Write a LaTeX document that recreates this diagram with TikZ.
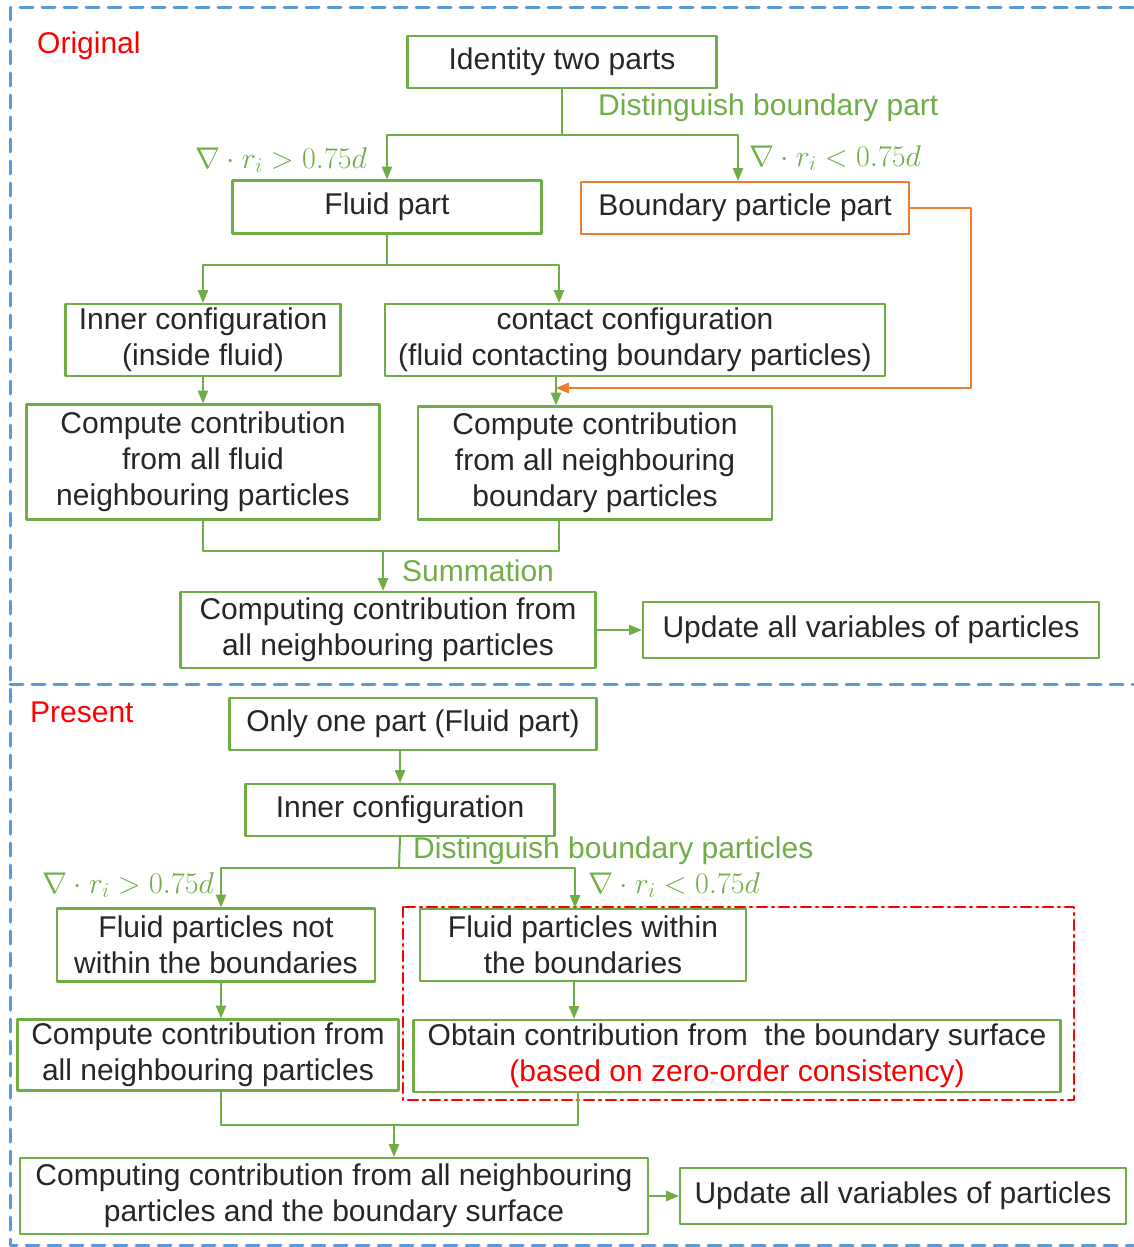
\RequirePackage{fix-cm}
\documentclass[tikz,border=0pt]{standalone}
\usepackage{fontspec}
\setmainfont{Liberation Sans}
\usepackage{tikz}
\usetikzlibrary{arrows}
\definecolor{grn}{RGB}{112,173,71}
\definecolor{orng}{RGB}{237,125,49}
\definecolor{blu}{RGB}{91,155,213}
\definecolor{rd}{RGB}{255,0,0}

\begin{document}
\begin{tikzpicture}[x=1pt,y=-1pt,line cap=round,line join=round,>=triangle 45,
    box/.style={draw=grn,line width=2.4pt,inner sep=0pt,align=center,text=black!85,font=\fontsize{30}{36}\selectfont},
    link/.style={draw=grn,line width=2pt},
    lbl/.style={text=grn,inner sep=0pt,font=\fontsize{30}{36}\selectfont},
    title/.style={text=rd,inner sep=0pt,anchor=west,font=\fontsize{30}{36}\selectfont}]
    \useasboundingbox (0,0) rectangle (1133,1247);
    % frames
    \draw [blu,line width=3pt,dash pattern=on 13pt off 9pt] (1133,8)-- (10,8)-- (10,1245)-- (1133,1245);
    \draw [blu,line width=3pt,dash pattern=on 13pt off 9pt] (10,684)-- (1133,684);
    \draw [rd,line width=2.6pt,dash pattern=on 10pt off 5pt on 2pt off 5pt] (403,907) rectangle (1074,1100);
    % Original
    \node [title] (orig) at (37,46) {Original};
    \node [box,minimum width=309,minimum height=52] (ident) at (562,62) {Identity two parts};
    \node [box,minimum width=309,minimum height=53] (fluid) at (387,207) {Fluid part};
    \node [box,draw=orng,minimum width=328,minimum height=52] (bnd) at (745,208) {Boundary particle part};
    \node [box,minimum width=275,minimum height=72] (inner1) at (203,340) {Inner configuration\\(inside fluid)};
    \node [box,minimum width=500,minimum height=72] (contact) at (635,340) {contact configuration\\(fluid contacting boundary particles)};
    \node [box,minimum width=353,minimum height=115] (comp1) at (203,462) {Compute contribution\\from all fluid\\neighbouring particles};
    \node [box,minimum width=354,minimum height=113] (comp2) at (595,463) {Compute contribution\\from all neighbouring\\boundary particles};
    \node [box,minimum width=415,minimum height=76] (sum1) at (388,630) {Computing contribution from\\all neighbouring particles};
    \node [box,minimum width=456,minimum height=56] (upd1) at (871,630) {Update all variables of particles};
    \node [lbl,anchor=west] (dbp) at (598,108) {Distinguish boundary part};
    \node [lbl,anchor=east] (gt1) at (367,160) {$\nabla\cdot r_i>0.75d$};
    \node [lbl,anchor=west] (lt1) at (749,158) {$\nabla\cdot r_i<0.75d$};
    \node [lbl,anchor=west] (summ) at (402,571) {Summation};
    \coordinate (j1) at (562,135);
    \coordinate (j2) at (387,265);
    \coordinate (j3) at (383,551);
    \coordinate (o1) at (971,388);
    \coordinate (o2) at (556,388);
    \draw [link] (ident.south)-- (j1);
    \draw [link,->] (j1) -| (fluid.north);
    \draw [link,->] (j1) -| ([xshift=-7pt]bnd.north);
    \draw [link] (fluid.south)-- (j2);
    \draw [link,->] (j2) -| (inner1.north);
    \draw [link,->] (j2) -| ([xshift=-76pt]contact.north);
    \draw [link,->] (inner1.south)-- (comp1.north);
    \draw [link,->] (contact.south -| o2)-- (comp2.north -| o2);
    \draw [orng,line width=2pt,->] (bnd.east) -| (o1)-- (o2);
    \draw [link] (comp1.south) |- (j3) -| ([xshift=-36pt]comp2.south);
    \draw [link,->] (j3)-- (j3 |- sum1.north);
    \draw [link,->] (sum1.east)-- (upd1.west);
    % Present
    \node [title] (pres) at (30,712) {Present};
    \node [box,minimum width=367,minimum height=52] (one) at (413,724) {Only one part (Fluid part)};
    \node [box,minimum width=309,minimum height=52] (inner2) at (400,810) {Inner configuration};
    \node [box,minimum width=318,minimum height=73] (notin) at (216,945) {Fluid particles not\\within the boundaries};
    \node [box,minimum width=326,minimum height=72] (within) at (583,945) {Fluid particles within\\the boundaries};
    \node [box,minimum width=381,minimum height=71] (comp3) at (208,1055) {Compute contribution from\\all neighbouring particles};
    \node [box,minimum width=647,minimum height=72] (obtain) at (737,1056) {Obtain contribution from\ \ the boundary surface\\\textcolor{rd}{(based on zero-order consistency)}};
    \node [box,minimum width=628,minimum height=76] (sum2) at (334,1196) {Computing contribution from all neighbouring\\particles and the boundary surface};
    \node [box,minimum width=446,minimum height=56] (upd2) at (903,1196) {Update all variables of particles};
    \node [lbl,anchor=west] (dbq) at (413,851) {Distinguish boundary particles};
    \node [lbl,anchor=east] (gt2) at (214,885) {$\nabla\cdot r_i>0.75d$};
    \node [lbl,anchor=west] (lt2) at (588,885) {$\nabla\cdot r_i<0.75d$};
    \coordinate (j4) at (399,868);
    \coordinate (j5) at (394,1125);
    \draw [link,->] (inner2.north |- one.south)-- (inner2.north);
    \draw [link] (inner2.south)-- (j4);
    \draw [link,->] (j4) -| ([xshift=5pt]notin.north);
    \draw [link,->] (j4) -| ([xshift=-8pt]within.north);
    \draw [link,->] ([xshift=5pt]notin.south)-- ([xshift=5pt]notin.south |- comp3.north);
    \draw [link,->] ([xshift=-9pt]within.south)-- ([xshift=-9pt]within.south |- obtain.north);
    \draw [link] ([xshift=5pt]notin.south |- comp3.south) |- (j5) -| ([xshift=-159pt]obtain.south);
    \draw [link,->] (j5)-- (j5 |- sum2.north);
    \draw [link,->] (sum2.east)-- (upd2.west);
\end{tikzpicture}
\end{document}
